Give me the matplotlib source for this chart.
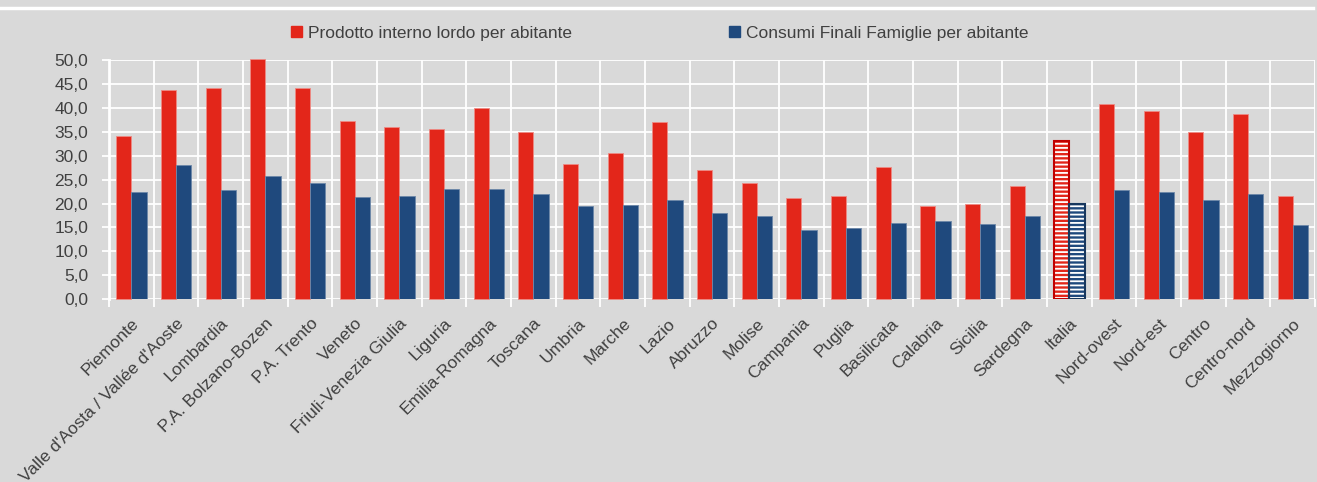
import numpy as np
import matplotlib
matplotlib.use("Agg")
import matplotlib.pyplot as plt
from matplotlib.lines import Line2D
from matplotlib.patches import Patch

plt.rcParams['font.family'] = ['Liberation Sans', 'DejaVu Sans']

regioni = ["Piemonte", "Valle d'Aosta / Vallée d'Aoste", "Lombardia", "P.A. Bolzano-Bozen",
           "P.A. Trento", "Veneto", "Friuli-Venezia Giulia", "Liguria", "Emilia-Romagna",
           "Toscana", "Umbria", "Marche", "Lazio", "Abruzzo", "Molise", "Campania", "Puglia",
           "Basilicata", "Calabria", "Sicilia", "Sardegna", "Italia", "Nord-ovest", "Nord-est",
           "Centro", "Centro-nord", "Mezzogiorno"]
pil = [34.2, 43.7, 44.3, 50.3, 44.3, 37.2, 36.1, 35.6, 40.1,
       35.0, 28.2, 30.6, 37.1, 27.1, 24.4, 21.2, 21.6, 27.6,
       19.4, 19.9, 23.6, 33.1, 40.9, 39.3, 35.0, 38.7, 21.6]
consumi = [22.4, 28.0, 22.8, 25.8, 24.2, 21.4, 21.6, 23.0, 23.0,
           22.0, 19.4, 19.6, 20.8, 18.0, 17.4, 14.4, 14.8, 16.0,
           16.4, 15.8, 17.4, 20.0, 22.8, 22.4, 20.8, 22.0, 15.6]
yticks = [0, 5, 10, 15, 20, 25, 30, 35, 40, 45, 50]

ROSSO = '#E3261A'
BLU = '#1F497D'
SFONDO = '#D9D9D9'
TESTO = '#404040'

fig = plt.figure(figsize=(13.17, 4.82), dpi=100, facecolor=SFONDO)
ax = fig.add_axes([0.0828, 0.3797, 0.9157, 0.4952])
ax.set_facecolor(SFONDO)

x = np.arange(len(regioni))
w = 0.34
i_it = regioni.index("Italia")

plt.rcParams['hatch.linewidth'] = 1.3
for i in x:
    if i == i_it:
        # Italia: barre rigate
        ax.bar(i - w / 2, pil[i], w, color=ROSSO, edgecolor='white', hatch='----', linewidth=0, zorder=3)
        ax.bar(i - w / 2, pil[i], w, fill=False, edgecolor='#C00000', linewidth=1.5, zorder=4)
        ax.bar(i + w / 2, consumi[i], w, color=BLU, edgecolor='white', hatch='----', linewidth=0, zorder=3)
        ax.bar(i + w / 2, consumi[i], w, fill=False, edgecolor='#17375E', linewidth=1.5, zorder=4)
    else:
        ax.bar(i - w / 2, pil[i], w, color=ROSSO, edgecolor='#EE8A84', linewidth=0.6, zorder=3, clip_on=False)
        ax.bar(i + w / 2, consumi[i], w, color=BLU, edgecolor='#6C87A8', linewidth=0.6, zorder=3)

ax.set_xlim(-0.5, len(regioni) - 0.5)
ax.set_ylim(0, 50)
ax.set_yticks(yticks)
ax.set_yticklabels([f"{v:.1f}".replace('.', ',') for v in yticks])
ax.set_xticks(x)
ax.set_xticklabels(regioni, rotation=45, ha='right', rotation_mode='anchor')
ax.set_xticks(np.arange(-0.5, len(regioni)), minor=True)

ax.grid(axis='y', color='white', linewidth=1.3, zorder=0)
ax.grid(axis='x', which='minor', color='white', linewidth=1.3, zorder=0)
ax.set_axisbelow(True)

ax.tick_params(axis='x', which='major', length=0, pad=12, labelsize=12.5, labelcolor=TESTO)
ax.tick_params(axis='x', which='minor', length=6, color='white', width=1.3)
ax.tick_params(axis='y', length=5, color='white', width=1.3, pad=10, labelsize=12.5, labelcolor=TESTO)

for s in ['top', 'right', 'bottom']:
    ax.spines[s].set_visible(False)
ax.spines['left'].set_color('white')
ax.spines['left'].set_linewidth(2)

handles = [Patch(color=ROSSO), Patch(color=BLU)]
fig.legend(handles, ["Prodotto interno lordo per abitante", "Consumi Finali Famiglie per abitante"],
           loc='center', bbox_to_anchor=(0.501, 0.9315), ncol=2, frameon=False,
           fontsize=12.5, labelcolor=TESTO, handlelength=0.65, handleheight=0.65,
           handletextpad=0.35, columnspacing=9.0)

fig.add_artist(Line2D([0, 0.997], [0.984, 0.984], transform=fig.transFigure, color='white', linewidth=2.5))

fig.savefig('out.png', dpi=100, facecolor=SFONDO)
